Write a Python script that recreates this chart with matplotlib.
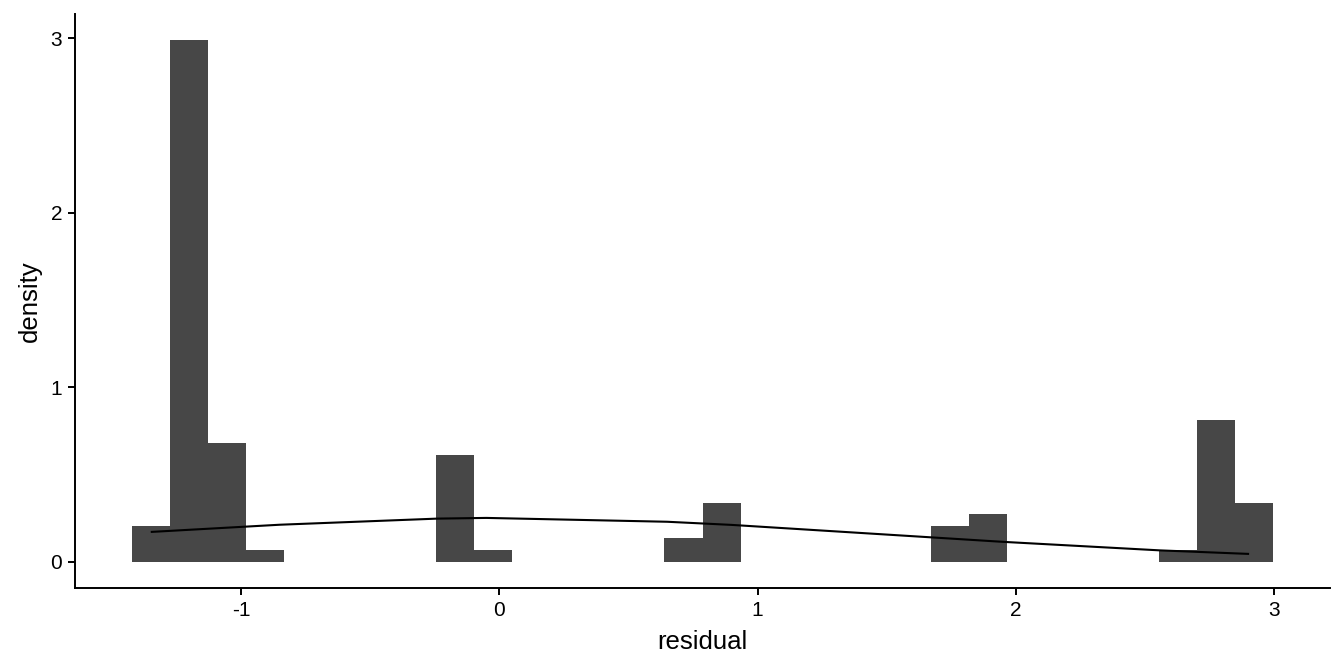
import matplotlib.pyplot as plt
import numpy as np

# histogram of residuals, 30 bins
bin_start = -1.4225
bin_width = 0.1473
density = [0.204, 2.988, 0.679, 0.068, 0.0, 0.0, 0.0, 0.0, 0.611, 0.068,
           0.0, 0.0, 0.0, 0.0, 0.136, 0.340, 0.0, 0.0, 0.0, 0.0,
           0.0, 0.204, 0.272, 0.0, 0.0, 0.0, 0.0, 0.068, 0.815, 0.340]

# normal density curve drawn through the residual values
curve_x = [-1.346, -0.85, -0.24, -0.05, 0.65, 0.90, 1.68, 1.95, 2.56, 2.90]
curve_y = [0.172, 0.213, 0.248, 0.252, 0.230, 0.212, 0.140, 0.115, 0.066, 0.046]

x_ticks = [-1, 0, 1, 2, 3]
y_ticks = [0, 1, 2, 3]


def main() -> None:
    plt.rcParams["font.family"] = ["Liberation Sans", "DejaVu Sans"]

    fig = plt.figure(figsize=(13.44, 6.72), dpi=100)
    ax = fig.add_axes([0.0558, 0.125, 0.9338, 0.854])

    edges = bin_start + bin_width * np.arange(len(density))
    ax.bar(edges, density, width=bin_width, align="edge",
           color="#474747", linewidth=0)
    ax.plot(curve_x, curve_y, color="black", linewidth=1.5)

    x_lo = bin_start
    x_hi = bin_start + bin_width * len(density)
    pad = (x_hi - x_lo) * 0.05
    ax.set_xlim(x_lo - pad, x_hi + pad)
    y_hi = max(density)
    ax.set_ylim(-0.05 * y_hi, 1.05 * y_hi)

    ax.set_xticks(x_ticks)
    ax.set_xticklabels([str(t) for t in x_ticks])
    ax.set_yticks(y_ticks)
    ax.set_yticklabels([str(t) for t in y_ticks])

    for side in ("top", "right"):
        ax.spines[side].set_visible(False)
    for side in ("left", "bottom"):
        ax.spines[side].set_linewidth(1.4)
        ax.spines[side].set_color("black")

    ax.tick_params(axis="both", direction="out", length=5.3, width=1.4,
                   color="black", labelsize=15, labelcolor="black", pad=4)

    ax.set_xlabel("residual", fontsize=18.5, labelpad=7)
    ax.set_ylabel("density", fontsize=18.5, labelpad=6)

    fig.savefig("out.png", dpi=100)


if __name__ == "__main__":
    main()
